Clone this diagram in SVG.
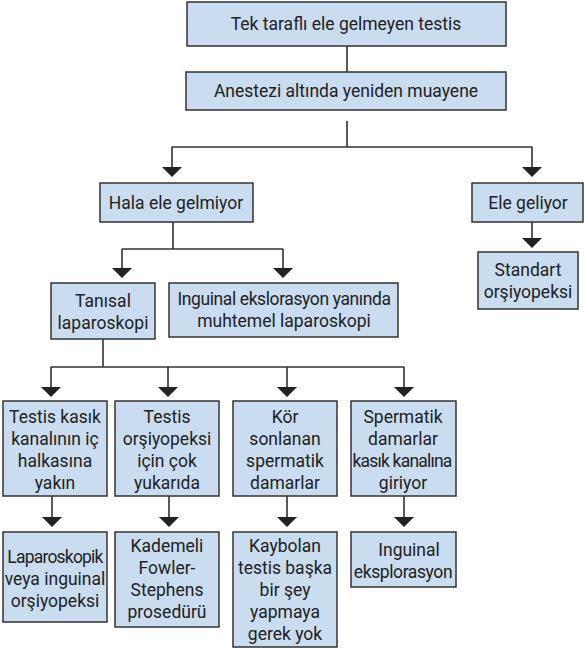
<svg xmlns="http://www.w3.org/2000/svg" width="585" height="651" viewBox="0 0 585 651">
  <defs>
    <style>
      .box { fill: #c9dcf0; stroke: #333; stroke-width: 1.5; }
      .lbl { font-family: Roboto, "Open Sans", "Liberation Sans", sans-serif; font-size: 17.5px; fill: #222; text-anchor: middle; }
      .tight { letter-spacing: -0.4px; }
      .tighter { letter-spacing: -0.8px; }
      .ln { fill: none; stroke: #333; stroke-width: 1.6; }
      .ar { fill: #222; }
    </style>
  </defs>

  <rect width="585" height="651" fill="#fff"/>

  <!-- connectors -->
  <g id="connectors">
    <path class="ln" d="M347,46 V72"/>
    <path class="ln" d="M347,121 V147 M172,147 H532 M172,147 V170 M532,147 V170"/>
    <path class="ln" d="M173,222 V249 M122,249 H283 M122,249 V271 M283,249 V271"/>
    <path class="ln" d="M532,222 V241"/>
    <path class="ln" d="M103,339 V367 M51,367 H404 M51,367 V390 M168,367 V390 M287,367 V390 M404,367 V390"/>
    <path class="ln" d="M52,496 V520 M169,496 V520 M287,496 V520 M404,496 V520"/>
    <!-- arrowheads -->
    <g class="ar">
      <polygon points="162,167 182,167 172,177"/>
      <polygon points="522,167 542,167 532,177"/>
      <polygon points="112,268 132,268 122,278"/>
      <polygon points="273,268 293,268 283,278"/>
      <polygon points="522,238 542,238 532,248"/>
      <polygon points="41,387 61,387 51,397"/>
      <polygon points="158,387 178,387 168,397"/>
      <polygon points="277,387 297,387 287,397"/>
      <polygon points="394,387 414,387 404,397"/>
      <polygon points="42,517 62,517 52,527"/>
      <polygon points="159,517 179,517 169,527"/>
      <polygon points="277,517 297,517 287,527"/>
      <polygon points="394,517 414,517 404,527"/>
    </g>
  </g>

  <g id="n-start">
    <rect class="box" x="187" y="2" width="319" height="44"/>
    <text class="lbl" x="346" y="30">Tek taraflı ele gelmeyen testis</text>
  </g>

  <g id="n-exam">
    <rect class="box" x="186" y="72" width="320" height="38"/>
    <text class="lbl" x="346" y="97">Anestezi altında yeniden muayene</text>
  </g>

  <g id="n-notpalp">
    <rect class="box" x="100" y="183" width="153" height="39"/>
    <text class="lbl" x="176" y="209">Hala ele gelmiyor</text>
  </g>

  <g id="n-palp">
    <rect class="box" x="472" y="183" width="111" height="39"/>
    <text class="lbl" x="528" y="209">Ele geliyor</text>
  </g>

  <g id="n-standard">
    <rect class="box" x="478" y="252" width="100" height="57"/>
    <text class="lbl" x="528" y="276">Standart</text>
    <text class="lbl" x="528" y="298">orşiyopeksi</text>
  </g>

  <g id="n-diaglap">
    <rect class="box" x="51" y="283" width="104" height="56"/>
    <text class="lbl" x="103" y="307">Tanısal</text>
    <text class="lbl" x="103" y="329">laparoskopi</text>
  </g>

  <g id="n-inguinal-lap">
    <rect class="box" x="169" y="283" width="229" height="54"/>
    <text class="lbl tight" x="284" y="305">Inguinal ekslorasyon yanında</text>
    <text class="lbl" x="284" y="327">muhtemel laparoskopi</text>
  </g>

  <g id="n-near-ring">
    <rect class="box" x="3" y="401" width="104" height="95"/>
    <text class="lbl" x="55" y="423">Testis kasık</text>
    <text class="lbl" x="55" y="445">kanalının iç</text>
    <text class="lbl" x="55" y="467">halkasına</text>
    <text class="lbl" x="55" y="489">yakın</text>
  </g>

  <g id="n-too-high">
    <rect class="box" x="115" y="401" width="104" height="95"/>
    <text class="lbl" x="167" y="423">Testis</text>
    <text class="lbl" x="167" y="445">orşiyopeksi</text>
    <text class="lbl" x="167" y="467">için çok</text>
    <text class="lbl" x="167" y="489">yukarıda</text>
  </g>

  <g id="n-blind">
    <rect class="box" x="233" y="401" width="104" height="95"/>
    <text class="lbl" x="285" y="423">Kör</text>
    <text class="lbl" x="285" y="445">sonlanan</text>
    <text class="lbl" x="285" y="467">spermatik</text>
    <text class="lbl" x="285" y="489">damarlar</text>
  </g>

  <g id="n-vessels">
    <rect class="box" x="351" y="401" width="105" height="95"/>
    <text class="lbl" x="403" y="423">Spermatik</text>
    <text class="lbl" x="403" y="445">damarlar</text>
    <text class="lbl tighter" x="402" y="467">kasık kanalına</text>
    <text class="lbl" x="403" y="489">giriyor</text>
  </g>

  <g id="n-lap-orch">
    <rect class="box" x="3" y="532" width="104" height="90"/>
    <text class="lbl tighter" x="55" y="563">Laparoskopik</text>
    <text class="lbl" x="55" y="585">veya inguinal</text>
    <text class="lbl" x="55" y="607">orşiyopeksi</text>
  </g>

  <g id="n-fowler">
    <rect class="box" x="115" y="532" width="104" height="95"/>
    <text class="lbl" x="167" y="552">Kademeli</text>
    <text class="lbl" x="167" y="574">Fowler-</text>
    <text class="lbl" x="167" y="596">Stephens</text>
    <text class="lbl" x="167" y="618">prosedürü</text>
  </g>

  <g id="n-vanished">
    <rect class="box" x="233" y="532" width="104" height="115"/>
    <text class="lbl" x="285" y="552">Kaybolan</text>
    <text class="lbl" x="285" y="574">testis başka</text>
    <text class="lbl" x="285" y="596">bir şey</text>
    <text class="lbl" x="285" y="618">yapmaya</text>
    <text class="lbl" x="285" y="640">gerek yok</text>
  </g>

  <g id="n-explore">
    <rect class="box" x="351" y="532" width="105" height="55"/>
    <text class="lbl" x="409" y="556">Inguinal</text>
    <text class="lbl tight" x="403" y="578">eksplorasyon</text>
  </g>
</svg>
